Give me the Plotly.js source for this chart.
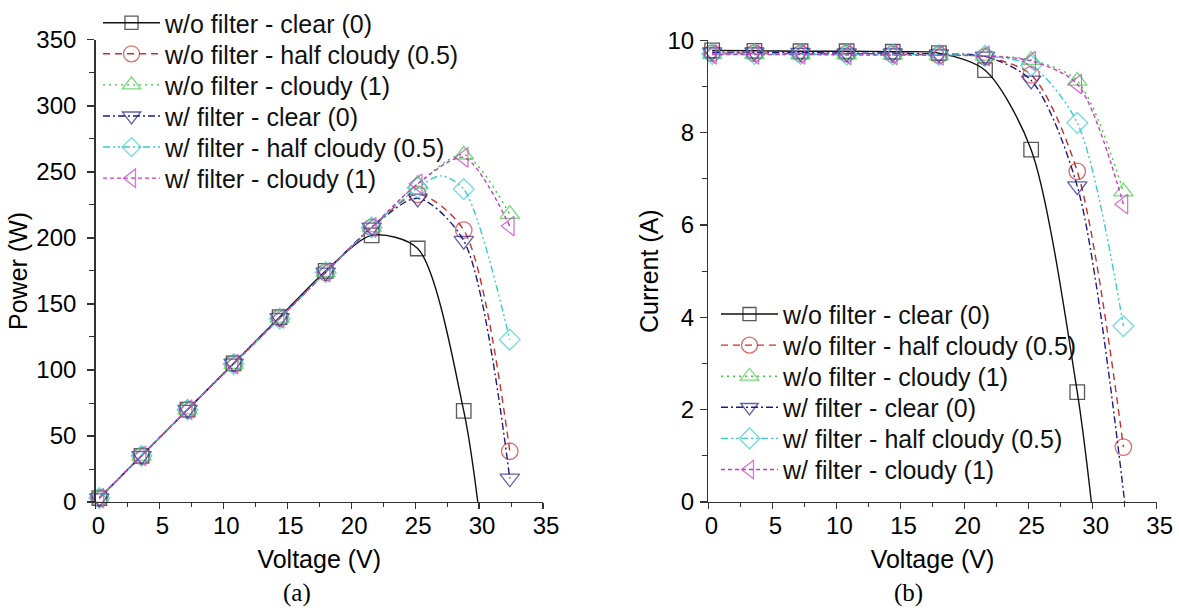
<!DOCTYPE html>
<html>
<head>
<meta charset="utf-8">
<script src="https://cdn.plot.ly/plotly-3.0.1.min.js"></script>
<style>html,body{margin:0;padding:0;background:#fff;}#chart{width:1179px;height:613px;}</style>
</head>
<body>
<div id="chart"></div>
<script>
// ---- data ----
const seriesNames = [
  'w/o filter - clear (0)',
  'w/o filter - half cloudy (0.5)',
  'w/o filter - cloudy (1)',
  'w/ filter - clear (0)',
  'w/ filter - half cloudy (0.5)',
  'w/ filter - cloudy (1)'
];
// voltages (V) of the measured points
const vBlackP = [0.3, 3.6, 7.2, 10.8, 14.4, 18.0, 21.6, 25.2, 28.8, 29.9];
const vFull   = [0.3, 3.6, 7.2, 10.8, 14.4, 18.0, 21.6, 25.2, 28.8, 32.4];
const vCyanP  = [0.3, 3.6, 7.2, 10.8, 14.4, 18.0, 21.6, 25.2, 27.0, 28.8, 32.4];
const vBlueI  = [0.3, 3.6, 7.2, 10.8, 14.4, 18.0, 21.6, 25.2, 28.8, 32.5];

// (a) power (W)
const pWoClear  = [3, 35, 70, 105, 140, 175, 202, 192, 69, 0];
const pWoHalf   = [3, 35, 70, 105, 139.5, 174, 208, 233, 206, 38.5];
const pWoCloudy = [3, 35, 70, 104.5, 139.5, 174, 208, 241, 263, 218];
const pWClear   = [3, 35, 70, 105, 139.5, 174, 208, 230, 198, 18];
const pWHalf    = [3, 35, 70, 104.5, 139, 174, 208, 238, 247, 237, 123];
const pWCloudy  = [3, 35, 70, 104.5, 139, 174, 208, 241, 261, 209];

// (b) current (A)
const iWoClear  = [9.78, 9.77, 9.76, 9.76, 9.75, 9.72, 9.35, 7.63, 2.38, 0];
const iWoHalf   = [9.72, 9.72, 9.71, 9.71, 9.70, 9.68, 9.64, 9.25, 7.16, 1.19];
const iWoCloudy = [9.70, 9.70, 9.69, 9.69, 9.68, 9.67, 9.66, 9.57, 9.12, 6.72];
const iWClear   = [9.74, 9.74, 9.73, 9.72, 9.72, 9.70, 9.65, 9.13, 6.84, 0];
const iWHalf    = [9.70, 9.70, 9.70, 9.69, 9.69, 9.68, 9.66, 9.45, 8.21, 3.81];
const iWCloudy  = [9.69, 9.69, 9.69, 9.68, 9.68, 9.67, 9.66, 9.55, 9.05, 6.45];

const xTicks = [0, 5, 10, 15, 20, 25, 30, 35];

// ---- styles ----
const W = 1179, H = 613;
const colors  = ['#111111', '#cc2e2e', '#3ccc3c', '#1c1c88', '#3acccc', '#c63cc6'];
const symbols = ['square-open', 'circle-open', 'triangle-up-open', 'triangle-down-open', 'diamond-open', 'triangle-left-open'];
const dashes  = ['solid', '7px,5px', '2px,4px', '7px,3px,2px,3px', '7px,3px,2px,3px,2px,3px', '4px,3px'];
const msizes  = [14.5, 16.5, 17, 17, 16, 17];

const pX = [vBlackP, vFull, vFull, vFull, vCyanP, vFull];
const pY = [pWoClear, pWoHalf, pWoCloudy, pWClear, pWHalf, pWCloudy];
const iX = [vBlackP, vFull, vFull, vBlueI, vFull, vFull];
const iY = [iWoClear, iWoHalf, iWoCloudy, iWClear, iWHalf, iWCloudy];
// line-only points (no marker drawn): open-circuit ends and curve crest
const noMarkP = [[9], [], [], [], [8], []];
const noMarkI = [[9], [], [], [9], [], []];

// legend row centres (px from top)
const legRowsL = [21, 52.2, 83.4, 114.6, 145.8, 177];
const legRowsR = [313.3, 344.5, 375.7, 406.9, 438.1, 469.3];
const legXL = 98, legXR = 716;

function sizes(n, s, hidden) {
  const a = new Array(n).fill(s);
  hidden.forEach(i => { a[i] = 0; });
  return a;
}

const legFont = {family: 'Liberation Sans, Arial, sans-serif', size: 25, color: '#111'};
const traces = [];
const layoutLegends = {};
for (let k = 0; k < 6; k++) {
  const lid = k === 0 ? 'legend' : 'legend' + (k + 1);
  traces.push({
    type: 'scatter', mode: 'lines+markers', name: seriesNames[k],
    x: pX[k], y: pY[k], xaxis: 'x', yaxis: 'y', legend: lid,
    line: {color: colors[k], width: 1.4, dash: dashes[k], shape: 'spline', smoothing: 0.8},
    marker: {symbol: symbols[k], size: sizes(pX[k].length, msizes[k], noMarkP[k]), color: colors[k], line: {color: colors[k], width: 1.3}},
    cliponaxis: false
  });
  layoutLegends[lid] = {x: legXL / W, y: 1 - legRowsL[k] / H, xanchor: 'left', yanchor: 'middle',
    bgcolor: 'rgba(0,0,0,0)', font: legFont, itemwidth: 57, borderwidth: 0};
}
for (let k = 0; k < 6; k++) {
  const lid = 'legend' + (k + 7);
  traces.push({
    type: 'scatter', mode: 'lines+markers', name: seriesNames[k],
    x: iX[k], y: iY[k], xaxis: 'x2', yaxis: 'y2', legend: lid,
    line: {color: colors[k], width: 1.4, dash: dashes[k], shape: 'spline', smoothing: 0.8},
    marker: {symbol: symbols[k], size: sizes(iX[k].length, msizes[k], noMarkI[k]), color: colors[k], line: {color: colors[k], width: 1.3}},
    cliponaxis: false
  });
  layoutLegends[lid] = {x: legXR / W, y: 1 - legRowsR[k] / H, xanchor: 'left', yanchor: 'middle',
    bgcolor: 'rgba(0,0,0,0)', font: legFont, itemwidth: 57, borderwidth: 0};
}

const tickFont = {family: 'Liberation Sans, Arial, sans-serif', size: 24, color: '#000'};
const titleFont = {family: 'Liberation Sans, Arial, sans-serif', size: 25, color: '#000'};

function xAxis(domain, anchor) {
  return {
    domain: domain, anchor: anchor, range: [0, 35], tickvals: xTicks, ticktext: xTicks.map(String),
    showline: true, linecolor: '#333', linewidth: 1.3, ticks: 'outside', ticklen: 6, tickwidth: 1.2, tickcolor: '#333',
    minor: {dtick: 2.5, tick0: 0, ticks: 'outside', ticklen: 4, tickwidth: 1, tickcolor: '#333'},
    showgrid: false, zeroline: false, tickfont: tickFont, ticklabelshift: 3, ticklabelstandoff: -4,
    title: {text: 'Voltage (V)', font: titleFont, standoff: 12}
  };
}
function yAxis(domain, anchor, range, dtick, minorDt, title, standoff, labelStandoff) {
  return {
    domain: domain, anchor: anchor, range: range, dtick: dtick, tick0: 0,
    showline: true, linecolor: '#333', linewidth: 1.3, ticks: 'outside', ticklen: 7, tickwidth: 1.2, tickcolor: '#333',
    minor: {dtick: minorDt, tick0: 0, ticks: 'outside', ticklen: 5, tickwidth: 1, tickcolor: '#333'},
    showgrid: false, zeroline: false, tickfont: tickFont, ticklabelstandoff: labelStandoff,
    title: {text: title, font: titleFont, standoff: standoff}
  };
}

const layout = Object.assign({
  width: W, height: H,
  margin: {l: 0, r: 0, t: 0, b: 0},
  paper_bgcolor: '#fff', plot_bgcolor: 'rgba(0,0,0,0)',
  showlegend: true,
  xaxis: xAxis([95.5 / W, 543 / W], 'y'),
  yaxis: yAxis([1 - 501.7 / H, 1 - 38 / H], 'x', [0, 350], 50, 25, 'Power (W)', 1, 6),
  xaxis2: xAxis([708.3 / W, 1156.7 / W], 'y2'),
  yaxis2: yAxis([1 - 501.7 / H, 1 - 38.3 / H], 'x2', [0, 10], 2, 1, 'Current (A)', 1, 1),
  annotations: [
    {text: '(a)', x: 297 / W, y: 1 - 593 / H, xref: 'paper', yref: 'paper', xanchor: 'center', yanchor: 'middle', showarrow: false,
     font: {family: 'Liberation Serif, Times New Roman, serif', size: 25, color: '#000'}},
    {text: '(b)', x: 909 / W, y: 1 - 593 / H, xref: 'paper', yref: 'paper', xanchor: 'center', yanchor: 'middle', showarrow: false,
     font: {family: 'Liberation Serif, Times New Roman, serif', size: 25, color: '#000'}}
  ]
}, layoutLegends);

Plotly.newPlot('chart', traces, layout, {displayModeBar: false, staticPlot: true});
</script>
</body>
</html>
